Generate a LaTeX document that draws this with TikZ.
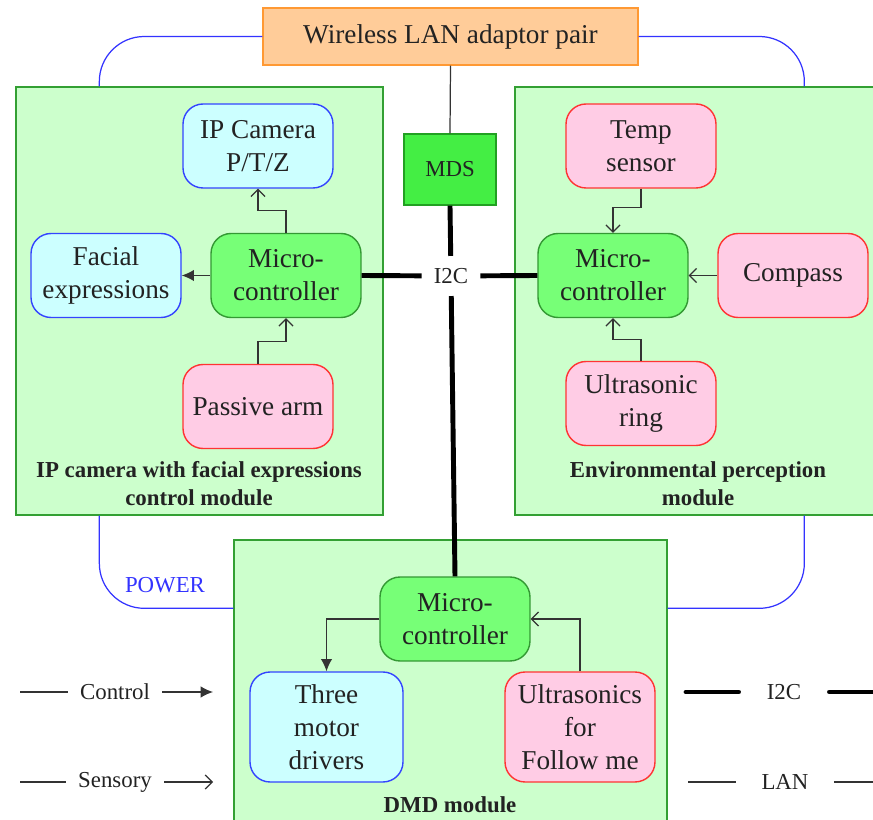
\documentclass[tikz,border=0pt]{standalone}
\usepackage{fontspec}
\setmainfont{Liberation Serif}
\usetikzlibrary{calc,arrows.meta}
\definecolor{modfill}{HTML}{CCFFCC}
\definecolor{modline}{HTML}{33A033}
\definecolor{microfill}{HTML}{77FF77}
\definecolor{microline}{HTML}{339933}
\definecolor{mdsfill}{HTML}{44EE44}
\definecolor{mdsline}{HTML}{22A022}
\definecolor{actfill}{HTML}{CCFFFF}
\definecolor{actline}{HTML}{3344FF}
\definecolor{senfill}{HTML}{FFCCE5}
\definecolor{senline}{HTML}{FF3333}
\definecolor{wlanfill}{HTML}{FFCC99}
\definecolor{wlanline}{HTML}{FF9933}
\definecolor{powerc}{HTML}{3333FF}
\definecolor{linkc}{HTML}{333333}
\definecolor{txt}{HTML}{222222}
\tikzset{
        module/.style={draw=modline, fill=modfill, line width=0.8pt, inner sep=0pt},
        box/.style={draw, rounded corners=0.4cm, minimum width=3cm, minimum height=1.68cm,
                align=center, inner sep=2pt, text=txt, line width=0.8pt,
                font=\fontsize{15.5}{18.7}\selectfont},
        micro/.style={box, fill=microfill, draw=microline},
        actuator/.style={box, fill=actfill, draw=actline},
        sensor/.style={box, fill=senfill, draw=senline},
        link/.style={draw=linkc, line width=0.7pt},
        ctrlarrow/.style={-{Latex[length=7pt,width=6.5pt]}},
        sensarrow/.style={-{Straight Barb[length=4pt,width=8pt]}},
        i2cbus/.style={line width=2.8pt},
        power/.style={draw=powerc, line width=0.7pt, rounded corners=0.9cm},
        small/.style={text=txt, font=\fontsize{13}{16}\selectfont},
        title/.style={text=txt, align=center, font=\fontsize{13}{16}\selectfont\bfseries},
}
\begin{document}
\begin{tikzpicture}[x=0.02cm, y=-0.02cm]
        \useasboundingbox (0,0) rectangle (873,820);

        \node[module, minimum width=7.34cm, minimum height=8.56cm] (ipmod) at (199.5,301) {};
        \node[module, minimum width=7.18cm, minimum height=8.56cm] (envmod) at (694.5,301) {};
        \node[module, minimum width=8.66cm, minimum height=5.62cm] (dmd) at (450.5,680.5) {};

        \node[draw=wlanline, fill=wlanfill, line width=0.8pt, minimum width=7.5cm, minimum height=1.14cm,
                text=txt, font=\fontsize{15.5}{18.7}\selectfont] (wlan) at (450.5,36.5) {Wireless LAN adaptor pair};
        \node[draw=mdsline, fill=mdsfill, line width=0.8pt, minimum width=1.84cm, minimum height=1.42cm,
                small] (mds) at (450,169.5) {MDS};

        \draw[power] (wlan.west) -| ($(ipmod.north west)+(84,0)$);
        \draw[power] (wlan.east) -| ($(envmod.north west)+(290,0)$);
        \draw[power] ($(ipmod.south west)+(84,0)$) |- ($(dmd.north west)+(0,69)$);
        \draw[power] ($(envmod.south west)+(290,0)$) |- ($(dmd.north east)+(0,69)$);
        \node[text=powerc, font=\fontsize{13}{16}\selectfont] (powerlbl) at (165,585) {POWER};

        \node[micro] (micro1) at (286,275.5) {Micro-\\controller};
        \node[actuator] (cam) at (258,146) {IP Camera\\P/T/Z};
        \node[actuator] (face) at (106,275.5) {Facial\\expressions};
        \node[sensor] (arm) at (258,406.5) {Passive arm};
        \node[title] (iplbl) at (199,484) {IP camera with facial expressions\\control module};

        \node[micro] (micro2) at (613,275.5) {Micro-\\controller};
        \node[sensor] (temp) at (641,146) {Temp\\sensor};
        \node[sensor] (compass) at (793,275.5) {Compass};
        \node[sensor] (ring) at (641,403.5) {Ultrasonic\\ring};
        \node[title] (envlbl) at (698,484) {Environmental perception\\module};

        \node[micro] (micro3) at (455,619) {Micro-\\controller};
        \node[actuator, minimum width=3.06cm, minimum height=2.2cm] (motors) at (326.5,727) {Three\\motor\\drivers};
        \node[sensor, minimum height=2.2cm] (follow) at (580,727) {Ultrasonics\\for\\Follow me};
        \node[title] (dmdlbl) at (450,805) {DMD module};

        \node[small, inner sep=0.24cm] (i2c) at (451,276) {I2C};

        \draw[link] (wlan.south) -- (mds.north);
        \draw[i2cbus] (mds.south) -- (i2c);
        \draw[i2cbus] (i2c) -- (micro3.north);
        \draw[i2cbus] (micro1.east) -- (i2c);
        \draw[i2cbus] (i2c) -- (micro2.west);

        \draw[link, sensarrow] (micro1.north) -- ++(0,-22) -| (cam.south);
        \draw[link, ctrlarrow] (micro1.west) -- (face.east);
        \draw[link, sensarrow] (arm.north) -- ++(0,-22) -| (micro1.south);
        \draw[link, sensarrow] (temp.south) -- ++(0,19) -| (micro2.north);
        \draw[link, sensarrow] (compass.west) -- (micro2.east);
        \draw[link, sensarrow] (ring.north) -- ++(0,-21) -| (micro2.south);
        \draw[link, ctrlarrow] (micro3.west) -| (motors.north);
        \draw[link, sensarrow] (follow.north) |- (micro3.east);

        \node[small, inner sep=0.24cm] (ctrl) at (115,692) {Control};
        \node[small, inner sep=0.24cm] (sens) at (115,782) {Sensory};
        \node[small, inner sep=0.56cm] (i2ckey) at (784,692) {I2C};
        \node[small, inner sep=0.5cm] (lankey) at (785,782) {LAN};
        \coordinate (ctrlA) at (20,692);
        \coordinate (ctrlB) at (213,692);
        \coordinate (sensA) at (20,782);
        \coordinate (sensB) at (213,782);
        \coordinate (i2cA) at (686,692);
        \coordinate (i2cB) at (873,692);
        \coordinate (lanA) at (688,782);
        \coordinate (lanB) at (873,782);
        \draw[link] (ctrlA) -- (ctrl);
        \draw[link, ctrlarrow] (ctrl) -- (ctrlB);
        \draw[link] (sensA) -- (sens);
        \draw[link, sensarrow] (sens) -- (sensB);
        \draw[i2cbus, line cap=round] (i2cA) -- (i2ckey);
        \draw[i2cbus, line cap=round] (i2ckey) -- (i2cB);
        \draw[link] (lanA) -- (lankey);
        \draw[link] (lankey) -- (lanB);
\end{tikzpicture}
\end{document}
